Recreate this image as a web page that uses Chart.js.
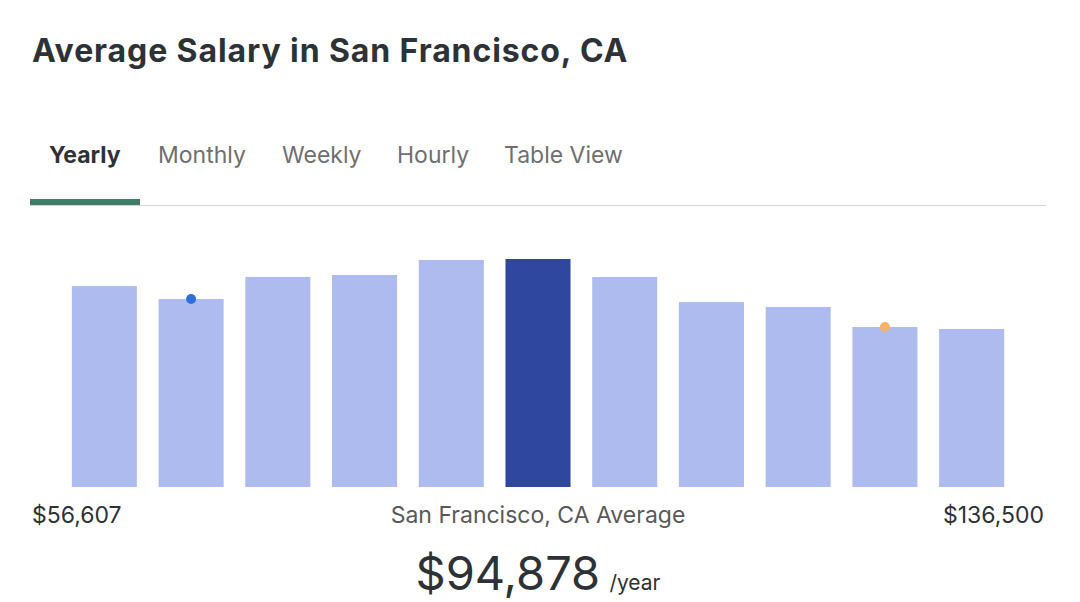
<!DOCTYPE html>
<html>
<head>
<meta charset="utf-8">
<script src="https://cdn.jsdelivr.net/npm/chart.js@4/dist/chart.umd.min.js"></script>
<style>
    body { margin: 0; background: #fff; font-family: Inter, "Noto Sans", sans-serif; color: #2d3236; }
    #page { position: relative; width: 1080px; height: 602px; overflow: hidden; }
    h1 { position: absolute; left: 32px; top: 31px; margin: 0; font-size: 32px; font-weight: 700; letter-spacing: 0.9px; color: #2d3236; }
    .tabs { position: absolute; left: 30px; top: 140px; width: 1016px; height: 65px; border-bottom: 1px solid #d4d4d4; }
    .tab { position: absolute; top: 1px; font-size: 23px; color: #6f6f6f; }
    .tab.active { font-weight: 700; color: #2d3236; }
    .underline { position: absolute; left: 0; top: 59px; width: 110px; height: 6px; background: #3e7d67; }
    #chartBox { position: absolute; left: 61px; top: 247px; width: 954px; height: 240px; }
    .lbl { position: absolute; top: 501px; font-size: 23px; color: #2d3236; }
    .avg { position: absolute; left: 0; width: 1076px; top: 544px; text-align: center; font-size: 47px; color: #2d3236; }
    .avg span { font-size: 21px; margin-left: -4px; }
</style>
</head>
<body>
<div id="page">
    <h1>Average Salary in San Francisco, CA</h1>
    <div class="tabs">
        <div class="tab active" style="left:19px">Yearly</div>
        <div class="tab" style="left:128px">Monthly</div>
        <div class="tab" style="left:252px">Weekly</div>
        <div class="tab" style="left:367px">Hourly</div>
        <div class="tab" style="left:474px">Table View</div>
        <div class="underline"></div>
    </div>
    <div id="chartBox"><canvas id="salaryChart"></canvas></div>
    <div class="lbl" style="left:32px">$56,607</div>
    <div class="lbl" style="left:0;width:1076px;text-align:center;color:#595959">San Francisco, CA Average</div>
    <div class="lbl" style="right:36px">$136,500</div>
    <div class="avg">$94,878 <span>/year</span></div>
</div>
<script>
// Salary distribution bins (relative heights)
const bins = ['1', '2', '3', '4', '5', '6', '7', '8', '9', '10', '11'];
const binHeights = [201, 188, 210, 212, 227, 228, 210, 185, 180, 160, 158];
const averageBin = 5;
const blueMarkerBin = 1;
const orangeMarkerBin = 9;

const barColors = binHeights.map((v, i) => i === averageBin ? '#2f479e' : '#aebbee');
const blueMarker = binHeights.map((v, i) => i === blueMarkerBin ? v : null);
const orangeMarker = binHeights.map((v, i) => i === orangeMarkerBin ? v : null);

const ctx = document.getElementById('salaryChart').getContext('2d');

new Chart(ctx, {
    data: {
        labels: bins,
        datasets: [
            {
                type: 'line',
                data: blueMarker,
                showLine: false,
                pointRadius: 5,
                pointBackgroundColor: '#2f6fdc',
                pointBorderWidth: 0,
                clip: false,
                order: 0
            },
            {
                type: 'line',
                data: orangeMarker,
                showLine: false,
                pointRadius: 5,
                pointBackgroundColor: '#f7b26a',
                pointBorderWidth: 0,
                clip: false,
                order: 0
            },
            {
                type: 'bar',
                data: binHeights,
                backgroundColor: barColors,
                categoryPercentage: 0.75,
                barPercentage: 1,
                order: 1
            }
        ]
    },
    options: {
        responsive: true,
        maintainAspectRatio: false,
        animation: false,
        layout: { padding: 0, autoPadding: false },
        scales: {
            x: { display: false },
            y: { display: false, min: 0, max: 240 }
        },
        plugins: {
            legend: { display: false },
            tooltip: { enabled: false }
        }
    }
});
</script>
</body>
</html>
